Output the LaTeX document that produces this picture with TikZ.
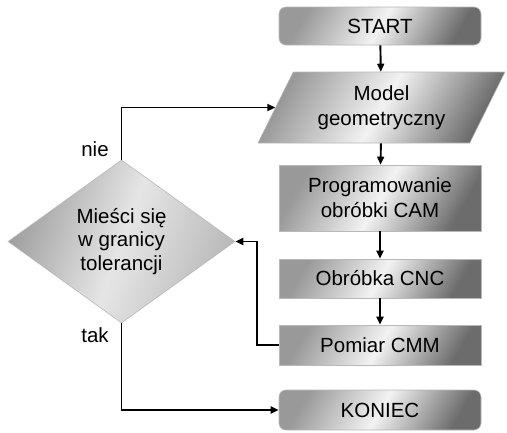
\documentclass[tikz,border=0pt]{standalone}
\usepackage{fontspec}
\setmainfont{Liberation Sans}
\usetikzlibrary{shapes.geometric,arrows.meta}

\tikzset{
  graybox/.style={draw=gray!55, line width=0.6pt, inner sep=0pt, align=center,
    left color=gray!80, right color=gray!85!black, middle color=gray!10,
    shading angle=60, font=\fontsize{20.5}{25}\selectfont},
  graydiamond/.style={graybox, diamond, left color=gray!75, right color=gray!55, middle color=gray!20,
    shading angle=70, font=\fontsize{20.5}{23.5}\selectfont},
  flowline/.style={line width=1.9pt, -{Triangle[length=8pt,width=7pt]}},
  lbl/.style={inner sep=0pt, font=\fontsize{20.5}{24}\selectfont}
}

\begin{document}
\begin{tikzpicture}[x=1pt,y=1pt,yscale=-1,xscale=1]
			\useasboundingbox (0,0) rectangle (507,432);

			% Blocks
			\node [graybox, rounded corners=7pt, minimum width=202, minimum height=38] (start) at (380,26) {START};
			\node [graybox, trapezium, trapezium left angle=60, trapezium right angle=120, trapezium stretches=true, minimum width=247, minimum height=71] (model) at (381.5,107.5) {Model\\geometryczny};
			\node [graybox, minimum width=202, minimum height=66] (prog) at (380,198) {Programowanie\\obróbki CAM};
			\node [graybox, minimum width=202, minimum height=39] (cnc) at (380,278.5) {Obróbka CNC};
			\node [graybox, minimum width=202, minimum height=40] (pomiar) at (380,345) {Pomiar CMM};
			\node [graybox, rounded corners=7pt, minimum width=202, minimum height=40] (koniec) at (380,410) {KONIEC};
			% Decision
			\node [graydiamond, minimum width=227, minimum height=163] (dec) at (121.5,241.5) {Mieści się\\w granicy\\tolerancji};

			% Text Node
			\node [lbl] (nie) at (95,149) {nie};
			% Text Node
			\node [lbl] (tak) at (95,335) {tak};

			% Straight Lines
			\draw [flowline] (start) -- (model);
			\draw [flowline] (model) -- (prog);
			\draw [flowline] (prog) -- (cnc);
			\draw [flowline] (cnc) -- (pomiar);
			\draw [flowline] (dec.north) |- (model.west);
			\draw [flowline] (pomiar.west) -- ++(-22,0) |- (dec.east);
			\draw [flowline] (dec.south) |- (koniec.west);

\end{tikzpicture}
\end{document}
